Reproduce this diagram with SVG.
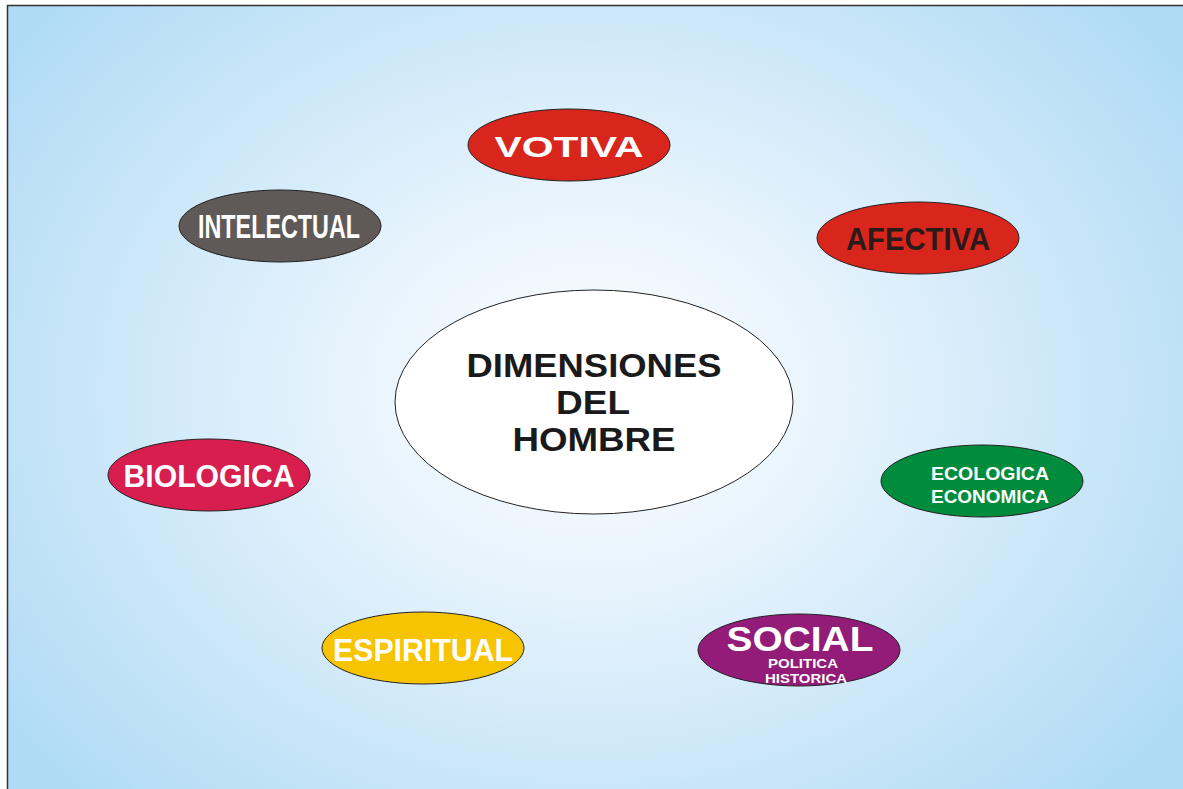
<svg xmlns="http://www.w3.org/2000/svg" width="1183" height="789" viewBox="0 0 1183 789">
<defs>
<radialGradient id="bg" cx="590" cy="390" r="720" gradientUnits="userSpaceOnUse" gradientTransform="translate(590 390) scale(1 0.8) translate(-590 -390)">
<stop offset="0" stop-color="#ffffff"/>
<stop offset="0.35" stop-color="#e6f3fc"/>
<stop offset="1" stop-color="#b0dbf5"/>
</radialGradient>
<style>
.n{stroke:#222;stroke-width:1}
.t{font-family:"Liberation Sans",Arial,sans-serif;font-weight:bold;text-anchor:middle}
.nar{font-family:"Liberation Sans Narrow","Liberation Sans",Arial,sans-serif;font-weight:bold;text-anchor:middle}
.w{fill:#ffffff}
</style>
</defs>
<rect x="0" y="0" width="1183" height="789" fill="#ffffff"/>
<rect x="7.5" y="5.5" width="1180" height="790" fill="url(#bg)" stroke="#333" stroke-width="1.5"/>
<g id="connectors"></g>
<g id="center">
<ellipse class="n" cx="594" cy="402" rx="199" ry="112" fill="#ffffff"/>
<text class="t" x="594" y="377" font-size="34" fill="#1a1a1a" textLength="255" lengthAdjust="spacingAndGlyphs">DIMENSIONES</text>
<text class="t" x="593" y="414" font-size="34" fill="#1a1a1a" textLength="74" lengthAdjust="spacingAndGlyphs">DEL</text>
<text class="t" x="594" y="451" font-size="34" fill="#1a1a1a" textLength="163" lengthAdjust="spacingAndGlyphs">HOMBRE</text>
</g>
<g id="votiva">
<ellipse class="n" cx="569" cy="145" rx="101" ry="36" fill="#d9261c"/>
<text class="t w" x="569" y="157" font-size="30" textLength="149" lengthAdjust="spacingAndGlyphs">VOTIVA</text>
</g>
<g id="afectiva">
<ellipse class="n" cx="918" cy="238" rx="101" ry="36" fill="#d9261c"/>
<text class="nar" x="918" y="250" font-size="32" fill="#2a1a1a" textLength="144" lengthAdjust="spacingAndGlyphs">AFECTIVA</text>
</g>
<g id="intelectual">
<ellipse class="n" cx="280" cy="226" rx="101" ry="36" fill="#5f5a58"/>
<text class="nar w" x="279" y="238" font-size="33" textLength="162" lengthAdjust="spacingAndGlyphs">INTELECTUAL</text>
</g>
<g id="biologica">
<ellipse class="n" cx="209" cy="475" rx="101" ry="36" fill="#d81e4e"/>
<text class="t w" x="209" y="487" font-size="32" textLength="171" lengthAdjust="spacingAndGlyphs">BIOLOGICA</text>
</g>
<g id="ecologica">
<ellipse class="n" cx="982" cy="481" rx="101" ry="36" fill="#008c3c"/>
<text class="nar w" x="990" y="480" font-size="19" textLength="118" lengthAdjust="spacingAndGlyphs">ECOLOGICA</text>
<text class="nar w" x="990" y="503" font-size="19" textLength="118" lengthAdjust="spacingAndGlyphs">ECONOMICA</text>
</g>
<g id="espiritual">
<ellipse class="n" cx="423" cy="648" rx="101" ry="36" fill="#f6c400"/>
<text class="t w" x="423" y="661" font-size="32" textLength="180" lengthAdjust="spacingAndGlyphs">ESPIRITUAL</text>
</g>
<g id="social">
<ellipse class="n" cx="799" cy="650" rx="101" ry="36" fill="#921c78"/>
<text class="t w" x="800" y="651" font-size="35" textLength="147" lengthAdjust="spacingAndGlyphs">SOCIAL</text>
<text class="t w" x="803" y="668" font-size="12" textLength="70" lengthAdjust="spacingAndGlyphs">POLITICA</text>
<text class="t w" x="806" y="683" font-size="12" textLength="82" lengthAdjust="spacingAndGlyphs">HISTORICA</text>
</g>
</svg>
